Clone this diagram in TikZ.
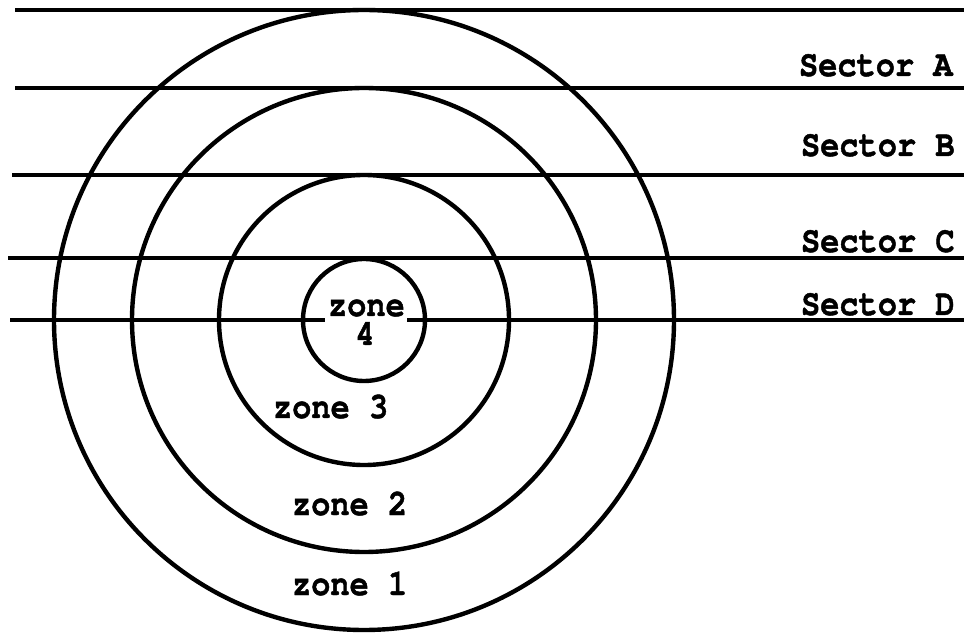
\documentclass[tikz,border=0pt]{standalone}
\usepackage{fontspec}
\newfontfamily\tw[BoldFeatures={FakeBold=1.3}]{TeX Gyre Cursor}
\begin{document}
\begin{tikzpicture}[x=0.75pt,y=-0.75pt,line width=3pt,
  lbl/.style={font=\tw\bfseries\fontsize{24}{26}\selectfont,inner sep=0pt,anchor=base west},
  ring/.style={draw=black,line width=3.3pt}]
\useasboundingbox (0,0) rectangle (964,634);
\coordinate (c) at (364,320);
% circles
\draw[ring] (c) circle[radius=310];
\draw[ring] (c) circle[radius=232];
\draw[ring] (c) circle[radius=145];
\draw[ring] (c) circle[radius=61];
% sector lines
\coordinate (l1a) at (15,10);  \coordinate (l1b) at (964,10);
\coordinate (l2a) at (15,88);  \coordinate (l2b) at (964,88);
\coordinate (l3a) at (12,175); \coordinate (l3b) at (964,175);
\coordinate (l4a) at (8,258);  \coordinate (l4b) at (964,258);
\coordinate (l5a) at (10,320); \coordinate (l5b) at (964,320);
\coordinate (g1) at (325,320); \coordinate (g2) at (407,320);
\draw (l1a) -- (l1b);
\draw (l2a) -- (l2b);
\draw (l3a) -- (l3b);
\draw (l4a) -- (l4b);
\draw (l5a) -- (g1);
\draw (g2) -- (l5b);
% sector labels
\node[lbl] (sa) at (797,76)  {\scalebox{1}[1.15]{Sector A}};
\node[lbl] (sb) at (799,156) {\scalebox{1}[1.15]{Sector B}};
\node[lbl] (sc) at (799,252) {\scalebox{1}[1.15]{Sector C}};
\node[lbl] (sd) at (799,315) {\scalebox{1}[1.15]{Sector D}};
% zone labels
\node[lbl] (z4a) at (326,316) {\scalebox{1}[1.15]{zone}};
\node[lbl,anchor=base] (z4b) at (365,345) {\scalebox{1}[1.15]{4}};
\node[lbl] (z3) at (271,418) {\scalebox{1}[1.15]{zone 3}};
\node[lbl] (z2) at (290,515) {\scalebox{1}[1.15]{zone 2}};
\node[lbl] (z1) at (290,595) {\scalebox{1}[1.15]{zone 1}};
\end{tikzpicture}
\end{document}
